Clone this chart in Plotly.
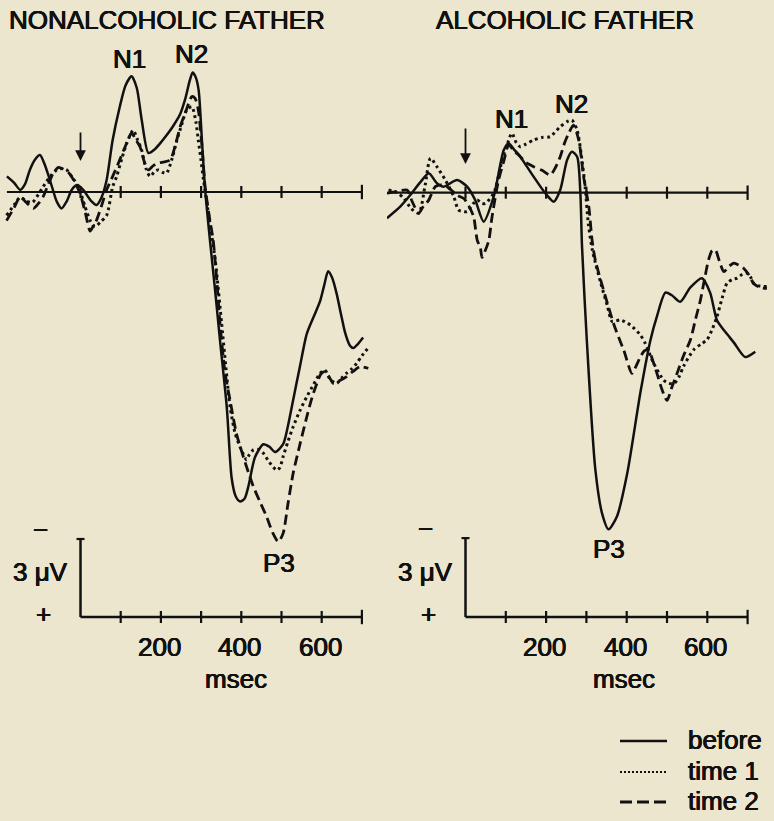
import plotly.graph_objects as go

# ---------------- data (ms, microvolts; positive = downward, ERP convention) ----------------
left_before_t = [-183, -165, -150, -138, -126, -113, -101, -90, -76, -59, -47, -34, -22, -9, 7, 24, 40, 53, 65, 80,
                 98, 112, 127, 140, 152, 169, 185, 198, 215, 231, 248, 260, 272, 279, 287, 294, 302, 310, 322, 335,
                 347, 364, 376, 386, 397, 408, 418, 434, 455, 470, 484, 504, 516, 529, 546, 563, 580, 596, 606, 616,
                 626, 637, 648, 658, 670, 679, 690, 703]
left_before_v = [-0.6, -0.35, -0.08, -0.3, -0.85, -1.25, -1.42, -1.1, -0.46, 0.37, 0.63, 0.35, -0.08, -0.27, -0.08, 0.3,
                 0.5, 0.18, -0.46, -2.0, -3.3, -4.1, -4.45, -4.0, -2.8, -1.5, -1.65, -1.87, -2.2, -2.55, -3.0, -3.55,
                 -4.3, -4.6, -4.4, -3.9, -2.0, -0.1, 1.85, 3.8, 5.7, 8.3, 11.0, 11.7, 11.9, 11.8, 11.3, 10.2, 9.7, 9.8,
                 10.0, 9.7, 9.0, 8.0, 6.7, 5.45, 4.8, 4.2, 3.6, 3.05, 3.3, 3.9, 4.7, 5.4, 5.9, 6.0, 5.85, 5.6]

left_time1_t = [-184, -165, -150, -135, -120, -105, -93, -75, -59, -45, -34, -20, -5, 11, 24, 36, 50, 65, 80, 90, 103,
                115, 131, 142, 152, 163, 173, 185, 194, 205, 214, 228, 240, 252, 264, 277, 287, 293, 300, 306, 320, 335,
                351, 362, 372, 385, 397, 413, 420, 430, 442, 455, 470, 488, 496, 504, 516, 529, 546, 563, 580, 596, 608,
                621, 637, 650, 662, 675, 687, 700, 718]
left_time1_v = [0.9, 0.5, 0.2, 0.35, 0.4, 0.1, -0.2, -0.6, -0.85, -0.9, -0.85, -0.55, -0.2, 0.55, 1.1, 1.33, 1.15, 0.9,
                -0.2, -0.6, -1.3, -1.87, -2.38, -2.0, -1.62, -0.9, -0.6, -0.8, -0.85, -0.75, -0.72, -1.3, -2.0, -2.6,
                -3.15, -3.28, -2.7, -2.0, -1.2, -0.46, 1.0, 2.6, 5.05, 6.8, 8.26, 9.3, 9.8, 10.3, 10.1, 9.92, 9.9,
                10.05, 10.4, 10.7, 10.6, 10.18, 9.6, 9.03, 8.4, 7.87, 7.4, 6.97, 6.85, 7.2, 7.36, 7.15, 6.97, 6.8,
                6.59, 6.3, 5.95]

left_time2_t = [-184, -165, -150, -135, -117, -105, -93, -80, -68, -55, -47, -30, -22, -10, -1, 12, 24, 32, 40, 52, 65,
                80, 94, 110, 127, 138, 148, 160, 169, 180, 190, 205, 223, 236, 248, 262, 277, 285, 293, 302, 310, 320,
                330, 340, 347, 360, 372, 388, 405, 418, 430, 446, 463, 478, 492, 504, 516, 529, 546, 563, 576, 588,
                598, 608, 618, 629, 645, 662, 678, 695, 716]
left_time2_v = [1.1, 0.6, 0.18, 0.4, 0.63, 0.45, 0.18, -0.3, -0.72, -0.95, -0.91, -0.75, -0.59, -0.25, 0.05, 0.8, 1.5,
                1.3, 1.08, 0.55, -0.08, -0.6, -1.1, -1.7, -2.26, -2.0, -1.74, -1.1, -0.85, -1.0, -1.1, -1.15, -1.23,
                -1.8, -2.51, -3.1, -3.67, -3.6, -3.15, -1.8, -0.2, 0.9, 1.85, 3.6, 5.05, 7.0, 8.0, 9.3, 10.18, 10.8,
                11.33, 11.9, 12.49, 13.1, 13.45, 13.13, 12.0, 10.82, 9.7, 8.64, 7.9, 7.36, 7.0, 6.91, 7.1, 7.36, 7.25,
                7.1, 6.9, 6.72, 6.78]

right_before_t = [-195, -162, -137, -112, -91, -71, -54, -21, 4, 24, 45, 70, 95, 107, 120, 136, 152, 169, 198, 219, 235,
                  252, 264, 277, 285, 289, 301, 322, 339, 355, 376, 401, 434, 459, 475, 496, 512, 533, 558, 587, 607,
                  624, 645, 666, 694, 719]
right_before_v = [0.97, 0.53, 0.09, -0.4, -0.74, -0.36, -0.23, -0.48, -0.23, 0.28, 1.1, 0.15, -1.62, -1.88, -1.65,
                  -1.37, -1.0, -0.61, 0.02, 0.34, -0.1, -1.24, -1.56, -1.37, 0.02, 2.0, 5.6, 10.5, 12.2, 12.8, 12.3,
                  10.7, 7.6, 5.6, 4.7, 3.8, 3.9, 4.15, 3.6, 3.25, 3.8, 4.85, 5.3, 5.7, 6.25, 6.05]

right_time1_t = [-191, -170, -153, -135, -116, -100, -87, -71, -50, -29, -17, 4, 20, 29, 40, 49, 70, 91, 105, 115, 126,
                 136, 150, 169, 190, 210, 235, 252, 264, 277, 289, 297, 305, 315, 335, 352, 364, 384, 409, 434, 446,
                 467, 492, 505, 517, 530, 541, 566, 585, 599, 612, 624, 637, 649, 662, 674, 687, 699, 707, 715, 730,
                 748]
right_time1_v = [-0.1, 0.0, 0.21, 0.6, 0.78, -0.3, -1.31, -0.99, -0.48, 0.15, 0.66, 0.72, 0.4, 0.28, 0.4, 0.41, 0.02,
                 -1.24, -1.9, -2.26, -1.9, -1.75, -1.85, -2.0, -2.1, -2.13, -2.51, -2.7, -2.76, -2.38, -1.24, -0.2, 1.2,
                 2.2, 3.4, 4.3, 4.9, 4.84, 5.03, 5.41, 5.73, 6.49, 7.13, 7.25, 7.26, 7.0, 6.6, 5.98, 5.75, 5.6, 5.2,
                 4.71, 4.0, 3.44, 3.3, 3.25, 3.1, 3.06, 3.2, 3.45, 3.55, 3.57]

right_time2_t = [-195, -170, -145, -132, -116, -104, -92, -75, -60, -46, -20, -4, 8, 20, 29, 37, 41, 49, 58, 66, 82, 95,
                 107, 120, 136, 150, 169, 190, 210, 223, 235, 246, 256, 268, 281, 293, 306, 314, 322, 335, 352, 368, 380,
                 393, 413, 423, 434, 445, 455, 465, 475, 488, 500, 512, 525, 541, 558, 571, 583, 593, 603, 612, 620,
                 630, 641, 654, 666, 678, 690, 702, 715, 730, 748]
right_time2_v = [0.02, -0.05, -0.1, 0.35, 0.78, 0.5, 0.3, -0.23, -0.3, -0.23, 0.1, 0.22, 0.5, 0.9, 1.8, 2.1, 2.46, 2.2,
                 1.8, 0.9, -0.48, -1.2, -1.81, -1.6, -1.37, -1.15, -0.99, -0.85, -0.67, -0.95, -1.37, -1.9, -2.26,
                 -2.57, -2.0, -0.61, 0.53, 1.8, 2.56, 3.3, 4.2, 5.0, 5.5, 6.0, 6.87, 6.6, 6.24, 6.0, 6.0, 6.4, 6.87,
                 7.5, 7.9, 7.4, 6.87, 6.2, 5.6, 4.8, 4.08, 3.3, 2.56, 2.2, 2.18, 2.6, 3.0, 2.8, 2.68, 2.75, 2.87, 3.1,
                 3.45, 3.6, 3.64]

series_names = ["before", "time 1", "time 2"]
panel_titles = ["NONALCOHOLIC FATHER", "ALCOHOLIC FATHER"]
zero_ticks_ms = [0, 100, 200, 300, 400, 500, 600, 700]
axis_ticks_ms = [100, 200, 300, 400, 500, 600, 700]
axis_label_ms = [200, 400, 600]
axis_label_text = ["200", "400", "600"]
scale_uv = 3
peak_names = ["N1", "N2", "P3"]
left_peak_pos = [(123, -5.12), (275, -5.31), (494, 14.27)]
right_peak_pos = [(115, -2.82), (262, -3.39), (357, 13.55)]

# ---------------- styling / geometry ----------------
W, H = 774, 821
BG = "#ece6cf"
INK = "#111111"
FONT = "Liberation Sans, Arial, Helvetica, sans-serif"
FS = 26
SHADOW = "0.45px 0 0 #111111, -0.45px 0 0 #111111, 0 0.3px 0 #111111"

STYLES = {
    "before": dict(dash="solid", width=2.5),
    "time 1": dict(dash="2.8px,3.4px", width=3.0),
    "time 2": dict(dash="10px,5px", width=2.8),
}

# panel geometry in pixels: domain, zero time x, px per ms, zero-volt y, px per uV, axis y, start of zero line
PANELS = [
    dict(dom=(0, 387), x0=80.5, sx=0.402, y0=192.0, sy=26.0, ax_y=617.0, line_start=-183,
         xa="x", ya="y", title_x=7,
         series=[(left_before_t, left_before_v), (left_time1_t, left_time1_v), (left_time2_t, left_time2_v)],
         peaks=left_peak_pos, arrow=(131, 161)),
    dict(dom=(387, 774), x0=465.5, sx=0.403, y0=192.7, sy=26.3, ax_y=617.0, line_start=-192,
         xa="x2", ya="y2", title_x=434,
         series=[(right_before_t, right_before_v), (right_time1_t, right_time1_v), (right_time2_t, right_time2_v)],
         peaks=right_peak_pos, arrow=(127, 164)),
]

fig = go.Figure()
shapes = []
annotations = []
layout_axes = {}
font = dict(family=FONT, size=FS, color=INK, shadow=SHADOW)

for i, P in enumerate(PANELS):
    suffix = "" if i == 0 else str(i + 1)
    xr = [(P["dom"][0] - P["x0"]) / P["sx"], (P["dom"][1] - P["x0"]) / P["sx"]]
    yr = [(H - P["y0"]) / P["sy"], (0 - P["y0"]) / P["sy"]]  # reversed: positive down
    layout_axes["xaxis" + suffix] = dict(domain=[P["dom"][0] / W, P["dom"][1] / W], range=xr, visible=False,
                                         anchor="y" + suffix, fixedrange=True)
    layout_axes["yaxis" + suffix] = dict(domain=[0, 1], range=yr, visible=False, anchor="x" + suffix,
                                         fixedrange=True)
    xa, ya = P["xa"], P["ya"]

    def px2v(py, P=P):
        return (py - P["y0"]) / P["sy"]

    def px2t(px, P=P):
        return (px - P["x0"]) / P["sx"]

    tick_half = 6 / P["sy"]

    # curves
    for name, (t, v) in zip(series_names, P["series"]):
        st = STYLES[name]
        fig.add_trace(go.Scatter(
            x=t, y=v, mode="lines", name=name, showlegend=False, hoverinfo="skip",
            line=dict(color=INK, width=st["width"], dash=st["dash"], shape="spline", smoothing=0.7),
            xaxis=xa, yaxis=ya))

    # zero line with ticks
    shapes.append(dict(type="line", xref=xa, yref=ya, x0=P["line_start"], x1=700, y0=0, y1=0,
                       line=dict(color=INK, width=2.2)))
    for tk in zero_ticks_ms:
        hh = tick_half * (1.2 if tk == 700 else 1.0)
        shapes.append(dict(type="line", xref=xa, yref=ya, x0=tk, x1=tk, y0=-hh, y1=hh,
                           line=dict(color=INK, width=2.2)))

    # stimulus arrow
    annotations.append(dict(xref=xa, yref=ya, axref=xa, ayref=ya, x=0, y=px2v(P["arrow"][1]),
                            ax=0, ay=px2v(P["arrow"][0]), text="", showarrow=True, arrowhead=2,
                            arrowsize=1.2, arrowwidth=1.8, arrowcolor=INK))

    # time axis at bottom + scale bar
    ay0 = px2v(P["ax_y"])
    shapes.append(dict(type="line", xref=xa, yref=ya, x0=0, x1=700, y0=ay0, y1=ay0,
                       line=dict(color=INK, width=2.5)))
    for tk in axis_ticks_ms:
        hh = tick_half * (1.2 if tk == 700 else 1.0)
        shapes.append(dict(type="line", xref=xa, yref=ya, x0=tk, x1=tk, y0=ay0 - hh, y1=ay0 + hh,
                           line=dict(color=INK, width=2.2)))
    shapes.append(dict(type="line", xref=xa, yref=ya, x0=0, x1=0, y0=ay0, y1=ay0 - scale_uv,
                       line=dict(color=INK, width=2.5)))
    cap = 4 / P["sx"]
    shapes.append(dict(type="line", xref=xa, yref=ya, x0=-cap, x1=cap, y0=ay0 - scale_uv, y1=ay0 - scale_uv,
                       line=dict(color=INK, width=2.2)))

    for ms, lab in zip(axis_label_ms, axis_label_text):
        annotations.append(dict(xref=xa, yref=ya, x=ms - 4, y=ay0 + 30 / P["sy"], text=lab, showarrow=False,
                                font=font, xanchor="center", yanchor="middle"))
    annotations.append(dict(xref=xa, yref=ya, x=px2t(P["x0"] + 155 if i == 0 else P["x0"] + 158),
                            y=ay0 + 62 / P["sy"], text="msec", showarrow=False, font=font,
                            xanchor="center", yanchor="middle"))
    # scale bar labels
    annotations.append(dict(xref=xa, yref=ya, x=px2t(P["x0"] - 40), y=ay0 - scale_uv - 0.35, text="\u2212",
                            showarrow=False, font=font, xanchor="center", yanchor="middle"))
    annotations.append(dict(xref=xa, yref=ya, x=px2t(P["x0"] - 40), y=ay0 - 1.72, text="3 \u03bcV",
                            showarrow=False, font=font, xanchor="center", yanchor="middle"))
    annotations.append(dict(xref=xa, yref=ya, x=px2t(P["x0"] - 37), y=ay0 - 0.1, text="+",
                            showarrow=False, font=font, xanchor="center", yanchor="middle"))

    # peak labels
    for name, (pt, pv) in zip(peak_names, P["peaks"]):
        annotations.append(dict(xref=xa, yref=ya, x=pt, y=pv, text=name, showarrow=False, font=font,
                                xanchor="center", yanchor="middle"))

    # panel title
    annotations.append(dict(xref="paper", yref="paper", x=P["title_x"] / W, y=1 - 20 / H,
                            text=panel_titles[i], showarrow=False, font=font, xanchor="left",
                            yanchor="middle"))

# legend (line samples + labels), drawn in paper coordinates
leg_rows = [741, 772, 802]
for name, yy in zip(series_names, leg_rows):
    dash = {"before": "solid", "time 1": "2px,2px", "time 2": "12px,5px"}[name]
    wdt = {"before": 2.4, "time 1": 2.2, "time 2": 3.0}[name]
    shapes.append(dict(type="line", xref="paper", yref="paper", x0=620 / W, x1=667 / W,
                       y0=1 - yy / H, y1=1 - yy / H, line=dict(color=INK, width=wdt, dash=dash)))
    annotations.append(dict(xref="paper", yref="paper", x=686 / W, y=1 - (yy - 1) / H, text=name,
                            showarrow=False, font=font, xanchor="left", yanchor="middle"))

fig.update_layout(
    width=W, height=H, margin=dict(l=0, r=0, t=0, b=0, pad=0),
    paper_bgcolor=BG, plot_bgcolor=BG, showlegend=False,
    shapes=shapes, annotations=annotations, **layout_axes)

fig.write_html("out.html", config={"displayModeBar": False},
               post_script="document.body.style.margin='0';document.body.style.overflow='hidden';"
                           "document.body.style.background='" + BG + "';")
